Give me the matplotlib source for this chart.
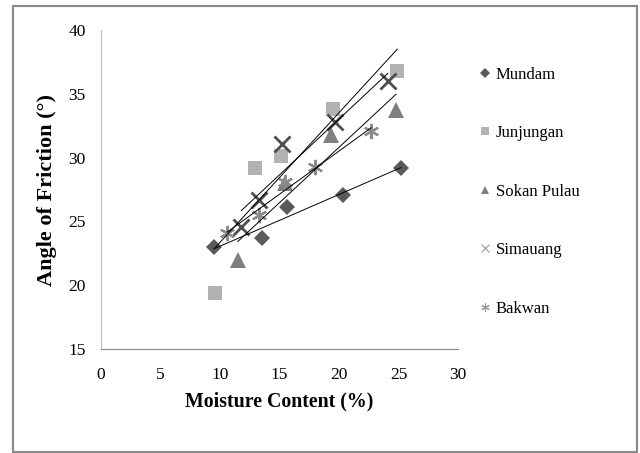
import numpy as np
import matplotlib
matplotlib.use("Agg")
import matplotlib.pyplot as plt
from matplotlib.lines import Line2D
from matplotlib.patches import Rectangle

plt.rcParams['font.family'] = ['Liberation Serif', 'DejaVu Serif']

mundam_x = [9.5, 13.5, 15.6, 20.3, 25.2]
mundam_y = [23.0, 23.7, 26.1, 27.1, 29.2]
junj_x = [9.6, 12.9, 15.1, 19.5, 24.9]
junj_y = [19.4, 29.2, 30.1, 33.8, 36.8]
sokan_x = [11.5, 15.5, 19.3, 24.8]
sokan_y = [22.0, 28.0, 31.8, 33.7]
sim_x = [11.8, 13.3, 15.2, 19.7, 24.1]
sim_y = [24.6, 26.7, 31.1, 32.8, 36.0]
bak_x = [10.6, 13.3, 15.5, 18.0, 22.7]
bak_y = [24.1, 25.5, 28.1, 29.3, 32.1]

series = [
    ("Mundam", mundam_x, mundam_y, "D", "#5a5a5a", 8, 0),
    ("Junjungan", junj_x, junj_y, "s", "#b2b2b2", 10, 0),
    ("Sokan Pulau", sokan_x, sokan_y, "^", "#7f7f7f", 11, 0),
    ("Simauang", sim_x, sim_y, "x", "#4f4f4f", 11, 2.0),
    ("Bakwan", bak_x, bak_y, (6, 2, 0), "#8c8c8c", 11, 1.6),
]

fig = plt.figure(figsize=(6.4, 4.53), dpi=100)
fig.patches.append(Rectangle((13/640, 1/453), 624/640, 446/453, transform=fig.transFigure,
                             fill=False, edgecolor="#888888", linewidth=1.5))
ax = fig.add_axes([101/640, 1 - 349/453, 357/640, 319/453])

handles = []
for name, xs, ys, mk, col, ms, mew in series:
    if mk in ("x",) or isinstance(mk, tuple):
        ax.plot(xs, ys, linestyle="none", marker=mk, markersize=ms, markeredgecolor=col,
                markeredgewidth=mew, color=col, zorder=3)
    else:
        ax.plot(xs, ys, linestyle="none", marker=mk, markersize=ms, color=col,
                markeredgewidth=0, zorder=3)
    p = np.polyfit(xs, ys, 1)
    xx = np.array([min(xs), max(xs)])
    ax.plot(xx, np.polyval(p, xx), color="black", linewidth=0.7, zorder=4)
    lcol = col if name not in ("Simauang", "Bakwan") else "#999999"
    handles.append(Line2D([], [], linestyle="none", marker=mk, markersize=6 if mk != "D" else 5,
                          color=lcol, markeredgecolor=lcol,
                          markeredgewidth=0.8 if (mk == "x" or isinstance(mk, tuple)) else 0,
                          label=name))

ax.set_xlim(0, 30)
ax.set_ylim(15, 40)
ax.set_xticks(range(0, 31, 5))
ax.set_yticks(range(15, 41, 5))
ax.tick_params(length=0, labelsize=12.5)
ax.tick_params(axis='x', pad=13)
ax.tick_params(axis='y', pad=11)
for s in ["top", "right"]:
    ax.spines[s].set_visible(False)
ax.spines["left"].set_color("#bbbbbb")
ax.spines["bottom"].set_color("#888888")
ax.set_xlabel("Moisture Content (%)", fontsize=14.3, fontweight="bold", labelpad=6)
ax.set_ylabel("Angle of Friction (°)", fontsize=16, fontweight="bold", labelpad=8)

fig.legend(handles=handles, loc="upper left", bbox_to_anchor=(470/640, 1 - 60/453),
           frameon=False, fontsize=12, labelspacing=2.55, handletextpad=0.15,
           handlelength=1.0, borderaxespad=0)

fig.savefig("out.png", dpi=100)
